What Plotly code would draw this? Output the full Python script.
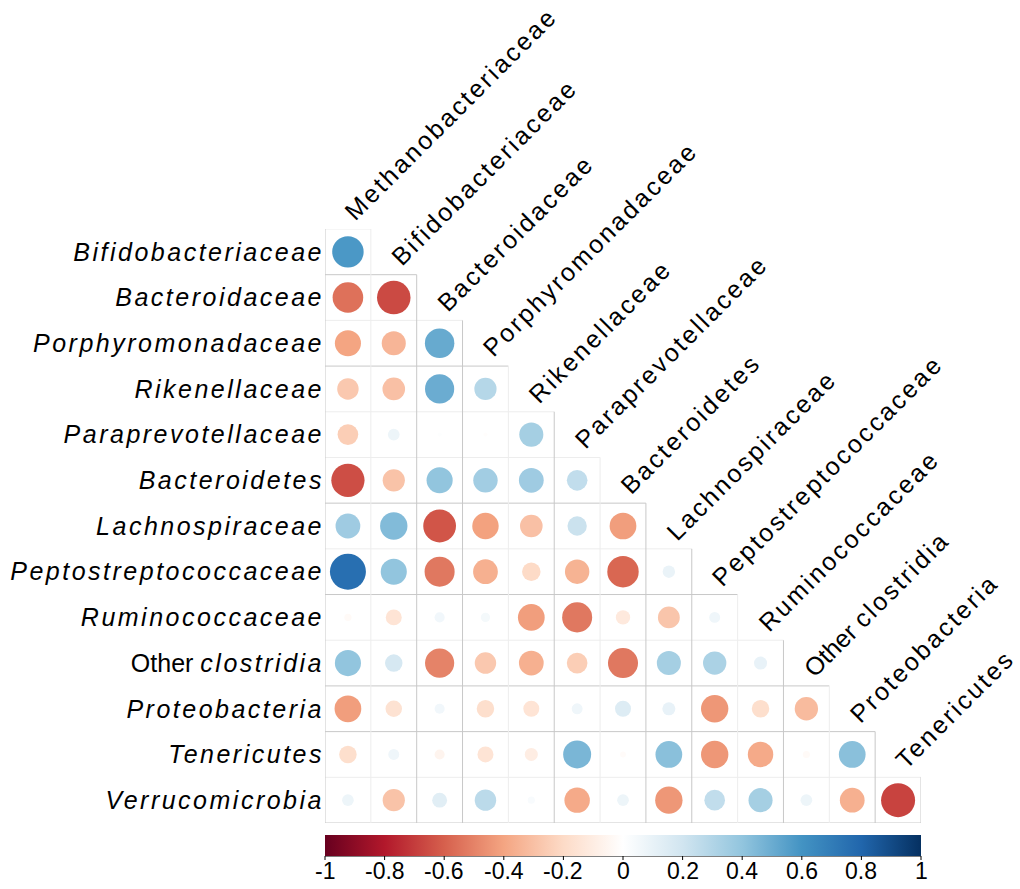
import numpy as np
import plotly.graph_objects as go

# Taxa on the rows (lower triangle) and on the columns
row_names = ["Bifidobacteriaceae", "Bacteroidaceae", "Porphyromonadaceae", "Rikenellaceae",
             "Paraprevotellaceae", "Bacteroidetes", "Lachnospiraceae", "Peptostreptococcaceae",
             "Ruminococcaceae", "Other clostridia", "Proteobacteria", "Tenericutes",
             "Verrucomicrobia"]
col_names = ["Methanobacteriaceae", "Bifidobacteriaceae", "Bacteroidaceae", "Porphyromonadaceae",
             "Rikenellaceae", "Paraprevotellaceae", "Bacteroidetes", "Lachnospiraceae",
             "Peptostreptococcaceae", "Ruminococcaceae", "Other clostridia", "Proteobacteria",
             "Tenericutes"]

# Correlation coefficients, row i holds columns 0..i
corr_lower = [
    [0.58],
    [-0.55, -0.66],
    [-0.40, -0.34, 0.51],
    [-0.27, -0.30, 0.50, 0.29],
    [-0.25, 0.08, 0.01, -0.01, 0.34],
    [-0.65, -0.29, 0.40, 0.35, 0.36, 0.25],
    [0.36, 0.44, -0.63, -0.41, -0.30, 0.22, -0.42],
    [0.76, 0.40, -0.53, -0.36, -0.20, -0.35, -0.58, 0.09],
    [-0.03, -0.15, 0.06, 0.05, -0.42, -0.53, -0.12, -0.28, 0.07],
    [0.40, 0.18, -0.50, -0.27, -0.36, -0.25, -0.53, 0.34, 0.32, 0.10],
    [-0.42, -0.16, 0.06, -0.18, -0.15, 0.07, 0.15, 0.10, -0.44, -0.18, -0.32],
    [-0.18, 0.07, -0.06, -0.15, -0.10, 0.46, -0.02, 0.42, -0.44, -0.38, -0.03, 0.42],
    [0.08, -0.29, 0.13, 0.27, 0.03, -0.38, 0.08, -0.44, 0.25, 0.34, 0.08, -0.36, -0.68],
]

cbar_ticks = [-1, -0.8, -0.6, -0.4, -0.2, 0, 0.2, 0.4, 0.6, 0.8, 1]
cbar_labels = ["-1", "-0.8", "-0.6", "-0.4", "-0.2", "0", "0.2", "0.4", "0.6", "0.8", "1"]

# Diverging red-white-blue palette
rdbu = ["#67001F", "#B2182B", "#D6604D", "#F4A582", "#FDDBC7", "#FFFFFF",
        "#D1E5F0", "#92C5DE", "#4393C3", "#2166AC", "#053061"]
colorscale = [[i / (len(rdbu) - 1), c] for i, c in enumerate(rdbu)]

FONT = "Liberation Sans, Arial, sans-serif"
W, H = 1020, 889
ML, MR, MT, MB = 325, 99, 229, 66
n = len(row_names)
cell_px = (W - ML - MR) / n
plot_h = H - MT - MB
CB_GAP, CB_THICK, CB_TICK = 12, 21, 4

xs, ys, vals = [], [], []
for i, row in enumerate(corr_lower):
    for j, v in enumerate(row):
        xs.append(j)
        ys.append(i)
        vals.append(v)
vals = np.array(vals)
sizes = 0.9 * cell_px * np.sqrt(np.abs(vals))

fig = go.Figure()
fig.add_trace(go.Scatter(
    x=xs, y=ys, mode="markers",
    marker=dict(
        size=sizes, color=vals, colorscale=colorscale, cmin=-1, cmax=1,
        line=dict(width=0), opacity=1,
        showscale=True,
        colorbar=dict(
            orientation="h", x=0, xanchor="left", y=-CB_GAP / plot_h, yanchor="top",
            len=1, lenmode="fraction", thickness=CB_THICK, thicknessmode="pixels",
            outlinewidth=0, xpad=0, ypad=0,
            ticks="", showticklabels=False,
        ),
    ),
    hoverinfo="skip",
))

# Cell borders of the lower triangle
DARK, LIGHT = "#c8c8c8", "#ededed"
dark_h = {1, 3, 6, 8, 10, 11, 13}
dark_v = {0, 2, 3, 5, 7, 8, 10, 12, 13}
shapes = []
for k in range(n + 1):
    y = k - 0.5
    shapes.append(dict(type="line", xref="x", yref="y", x0=-0.5, x1=min(k, n - 1) + 0.5,
                       y0=y, y1=y, layer="below",
                       line=dict(color=DARK if k in dark_h else LIGHT, width=1)))
for k in range(n + 1):
    x = k - 0.5
    shapes.append(dict(type="line", xref="x", yref="y", x0=x, x1=x,
                       y0=max(k - 1, 0) - 0.5, y1=n - 0.5, layer="below",
                       line=dict(color=DARK if k in dark_v else LIGHT, width=1)))

# Colour-bar axis: baseline, tick marks and labels
cb_base = -(CB_GAP + CB_THICK) / plot_h
cb_tick_end = -(CB_GAP + CB_THICK + CB_TICK) / plot_h
cb_label_y = -(871 - (H - MB)) / plot_h
shapes.append(dict(type="line", xref="paper", yref="paper", x0=0, x1=1,
                   y0=cb_base, y1=cb_base, line=dict(color="black", width=1)))

annotations = []
for v, lab in zip(cbar_ticks, cbar_labels):
    px = (v - (-1)) / 2.0
    shapes.append(dict(type="line", xref="paper", yref="paper", x0=px, x1=px,
                       y0=cb_base, y1=cb_tick_end, line=dict(color="black", width=1)))
    annotations.append(dict(x=px, y=cb_label_y, xref="paper", yref="paper", text=lab,
                            xanchor="center", yanchor="middle", showarrow=False,
                            font=dict(family=FONT, size=23, color="black")))

SP = "letter-spacing:2.5px"


def row_label(name):
    if name.startswith("Other "):
        return 'Other <span style="font-style:italic;%s">%s</span>' % (SP, name[6:])
    return '<span style="font-style:italic;%s">%s</span>' % (SP, name)


def col_label(name):
    if name.startswith("Other "):
        return 'Other <span style="%s">%s</span>' % (SP, name[6:])
    return '<span style="%s">%s</span>' % (SP, name)


for j, name in enumerate(col_names):
    annotations.append(dict(
        x=j, y=j - 0.5, xref="x", yref="y", text=col_label(name),
        textangle=-45, xanchor="left", yanchor="bottom", showarrow=False,
        xshift=-11, yshift=1, font=dict(family=FONT, size=25, color="black"),
    ))

fig.update_layout(
    width=W, height=H,
    margin=dict(l=ML, r=MR, t=MT, b=MB, pad=0, autoexpand=False),
    paper_bgcolor="white", plot_bgcolor="white",
    showlegend=False,
    shapes=shapes, annotations=annotations,
    xaxis=dict(range=[-0.5, n - 0.5], showgrid=False, zeroline=False,
               showticklabels=False, ticks="", fixedrange=True),
    yaxis=dict(range=[n - 0.5, -0.5], showgrid=False, zeroline=False,
               tickmode="array", tickvals=list(range(n)),
               ticktext=[row_label(r) for r in row_names],
               ticks="", ticklabelstandoff=0,
               tickfont=dict(family=FONT, size=25, color="black"), fixedrange=True),
)

fig.write_html("out.html")
